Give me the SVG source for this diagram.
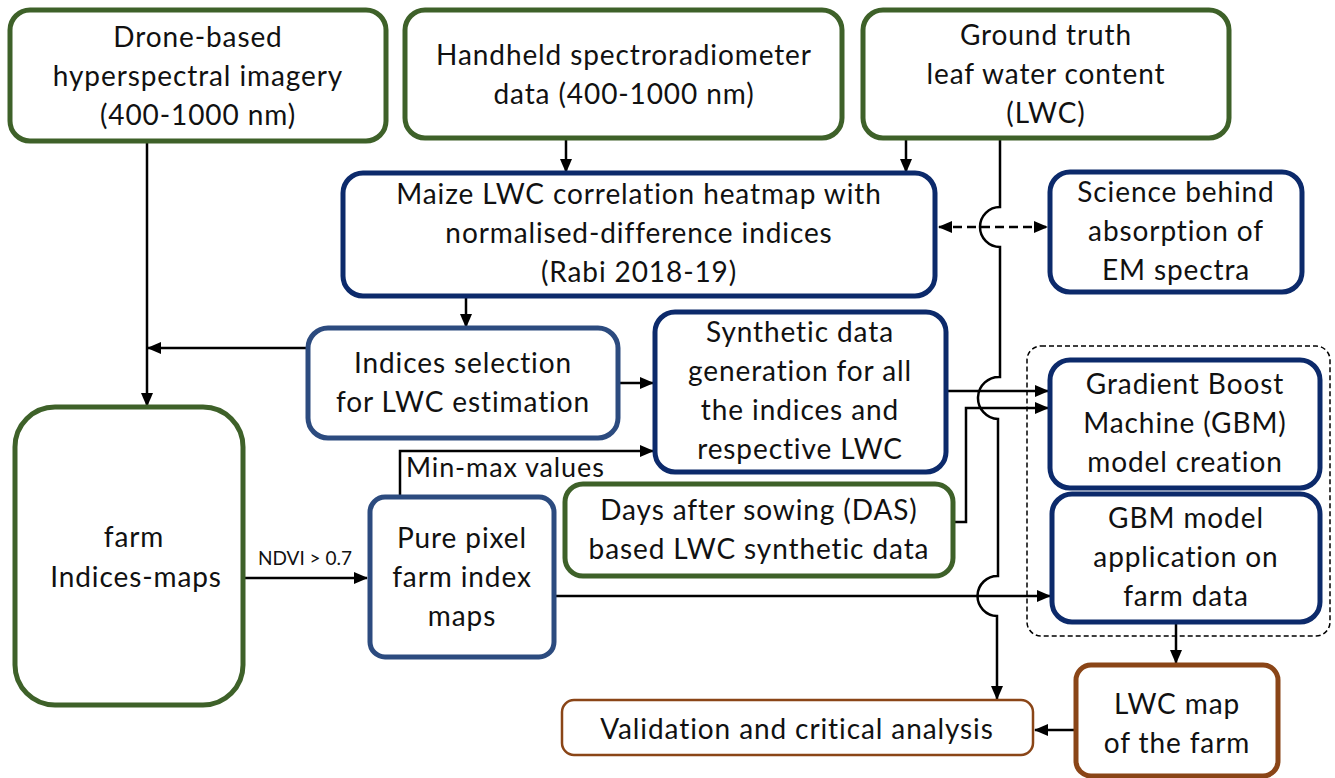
<svg xmlns="http://www.w3.org/2000/svg" width="1335" height="778" viewBox="0 0 1335 778">
<style>
.g{fill:#fff;stroke:#3e6129;stroke-width:5}
.b{fill:#fff;stroke:#0c2a6b;stroke-width:5}
.lb{fill:#fff;stroke:#2c4b7f;stroke-width:5}
.br{fill:#fff;stroke:#8a4517;stroke-width:5}
.br2{fill:#fff;stroke:#8a4517;stroke-width:2.5}
text{font-family:Lato,"Liberation Sans",sans-serif;font-size:28px;letter-spacing:0.9px;fill:#111;text-anchor:middle}
.c{fill:none;stroke:#000;stroke-width:2.5}
.ar{marker-end:url(#ah)}
</style>
<defs>
<marker id="ah" markerUnits="userSpaceOnUse" markerWidth="14" markerHeight="12" refX="13" refY="6" orient="auto">
<path d="M0,0 L14,6 L0,12 Z" fill="#000"/>
</marker>
<marker id="ahs" markerUnits="userSpaceOnUse" markerWidth="14" markerHeight="12" refX="1" refY="6" orient="auto">
<path d="M14,0 L0,6 L14,12 Z" fill="#000"/>
</marker>
</defs>
<rect width="1335" height="778" fill="#fff"/>

<g id="connectors">
<path class="c ar" d="M147,141 V406"/>
<path class="c ar" d="M308,348 H148"/>
<path class="c ar" d="M566,138 V172"/>
<path class="c ar" d="M906,138 V172"/>
<path class="c ar" d="M1000,138 V207 A20,20 0 0 0 1000,247 V377 A21,21 0 0 0 998,419 V576 A20,20 0 0 0 997,616 V699"/>
<path class="c" d="M939,227 H1047" stroke-dasharray="9,5" marker-start="url(#ahs)" marker-end="url(#ah)"/>
<path class="c ar" d="M466,296 V327"/>
<path class="c ar" d="M618,383 H653"/>
<path class="c ar" d="M400,497 V451 H653"/>
<path class="c ar" d="M243,578 H367"/>
<path class="c ar" d="M946,391 H1048"/>
<path class="c ar" d="M953,522 H966 V408 H1048"/>
<path class="c ar" d="M554,596 H1050"/>
<path class="c ar" d="M1176,622 V663"/>
<path class="c ar" d="M1076,730 H1035"/>
<text x="258" y="565" style="font-size:19px;letter-spacing:0;text-anchor:start">NDVI &gt; 0.7</text>
<text x="406" y="477" style="text-anchor:start;font-size:27px">Min-max values</text>
</g>

<g id="drone">
<rect class="g" x="10" y="10" width="376" height="131" rx="20"/>
<text x="198" y="47">Drone-based</text>
<text x="198" y="86">hyperspectral imagery</text>
<text x="198" y="125">(400-1000 nm)</text>
</g>
<g id="handheld">
<rect class="g" x="405" y="10" width="437" height="128" rx="20"/>
<text x="624" y="65">Handheld spectroradiometer</text>
<text x="624" y="104">data (400-1000 nm)</text>
</g>
<g id="groundtruth">
<rect class="g" x="863" y="10" width="366" height="128" rx="20"/>
<text x="1046" y="45">Ground truth</text>
<text x="1046" y="84">leaf water content</text>
<text x="1046" y="123">(LWC)</text>
</g>
<g id="maize">
<rect class="b" x="343" y="173" width="592" height="123" rx="20"/>
<text x="639" y="204">Maize LWC correlation heatmap with</text>
<text x="639" y="243">normalised-difference indices</text>
<text x="639" y="282">(Rabi 2018-19)</text>
</g>
<g id="science">
<rect class="b" x="1050" y="172" width="252" height="120" rx="20"/>
<text x="1176" y="202">Science behind</text>
<text x="1176" y="241">absorption of</text>
<text x="1176" y="280">EM spectra</text>
</g>
<g id="indices">
<rect class="lb" x="308" y="328" width="310" height="110" rx="20"/>
<text x="463" y="373">Indices selection</text>
<text x="463" y="412">for LWC estimation</text>
</g>
<g id="synthetic">
<rect class="b" x="655" y="312" width="291" height="160" rx="20"/>
<text x="800" y="342">Synthetic data</text>
<text x="800" y="381">generation for all</text>
<text x="800" y="420">the indices and</text>
<text x="800" y="459">respective LWC</text>
</g>
<g id="farm">
<rect class="g" x="15" y="407" width="228" height="298" rx="40"/>
<text x="134" y="547">farm</text>
<text x="136" y="587">Indices-maps</text>
</g>
<g id="purepixel">
<rect class="lb" x="370" y="497" width="184" height="160" rx="15"/>
<text x="462" y="548">Pure pixel</text>
<text x="462" y="587">farm index</text>
<text x="462" y="626">maps</text>
</g>
<g id="das">
<rect class="g" x="565" y="484" width="388" height="92" rx="18"/>
<text x="759" y="520">Days after sowing (DAS)</text>
<text x="759" y="559">based LWC synthetic data</text>
</g>
<g id="gbmgroup">
<rect x="1027" y="346" width="303" height="290" rx="14" fill="none" stroke="#000" stroke-width="1.5" stroke-dasharray="5,3"/>
</g>
<g id="gbmcreate">
<rect class="b" x="1050" y="360" width="270" height="128" rx="20"/>
<text x="1185" y="394">Gradient Boost</text>
<text x="1185" y="433">Machine (GBM)</text>
<text x="1185" y="472">model creation</text>
</g>
<g id="gbmapply">
<rect class="b" x="1052" y="494" width="268" height="128" rx="20"/>
<text x="1186" y="528">GBM model</text>
<text x="1186" y="567">application on</text>
<text x="1186" y="606">farm data</text>
</g>
<g id="lwcmap">
<rect class="br" x="1076" y="665" width="202" height="111" rx="15"/>
<text x="1177" y="714">LWC map</text>
<text x="1177" y="753">of the farm</text>
</g>
<g id="validation">
<rect class="br2" x="562" y="700" width="471" height="55" rx="12"/>
<text x="797" y="739">Validation and critical analysis</text>
</g>
</svg>
